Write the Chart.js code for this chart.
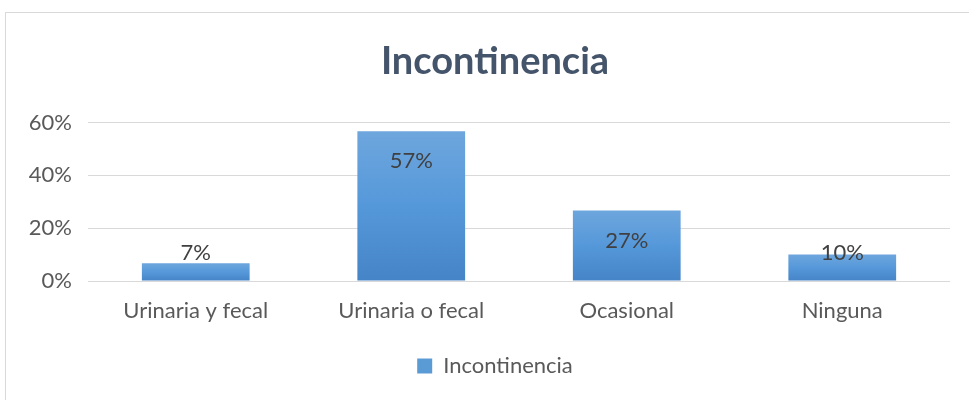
<!DOCTYPE html>
<html>
<head>
<meta charset="utf-8">
<script src="https://cdn.jsdelivr.net/npm/chart.js@4.4.1/dist/chart.umd.min.js"></script>
<style>
  body { margin: 0; background: #fff; overflow: hidden; }
  #frame { position: absolute; left: 5px; top: 12px; width: 1000px; height: 420px; border: 1px solid #D9D9D9; }
  #wrap { position: absolute; left: 0; top: 0; width: 989px; height: 400px; }
</style>
</head>
<body>
<div id="frame"></div>
<div id="wrap"><canvas id="chart" width="989" height="400"></canvas></div>
<script>
const categories = ['Urinaria y fecal', 'Urinaria o fecal', 'Ocasional', 'Ninguna'];
const values = [6.7, 56.7, 26.7, 10];
const yTicks = [0, 20, 40, 60];
const seriesName = 'Incontinencia';

const FONT = 'Lato, "Open Sans", sans-serif';

function barGradient(ctx, top, bottom) {
    const g = ctx.createLinearGradient(0, top, 0, bottom);
    g.addColorStop(0, '#6EA6DD');
    g.addColorStop(0.5, '#5598DA');
    g.addColorStop(1, '#4584C7');
    return g;
}

// data labels, Excel style "inside end"
const labelPlugin = {
    id: 'labels',
    afterDatasetsDraw(chart) {
        const ctx = chart.ctx;
        const meta = chart.getDatasetMeta(0);
        const base = chart.scales.y.getPixelForValue(0);
        ctx.save();
        ctx.font = '22px ' + FONT;
        ctx.fillStyle = '#404040';
        ctx.textAlign = 'center';
        ctx.textBaseline = 'middle';
        meta.data.forEach((bar, i) => {
            const y = Math.min(bar.y + 30, base - 28);
            ctx.fillText(Math.round(values[i]) + '%', bar.x, y);
        });
        ctx.restore();
    }
};

const ctx = document.getElementById('chart').getContext('2d');
new Chart(ctx, {
    type: 'bar',
    data: {
        labels: categories,
        datasets: [{
            label: seriesName,
            data: values,
            backgroundColor: function(c) {
                const chart = c.chart;
                if (!chart.chartArea || c.type !== 'data') return '#5B9BD5';
                const base = chart.scales.y.getPixelForValue(0);
                const top = chart.scales.y.getPixelForValue(c.raw);
                return barGradient(chart.ctx, top, base);
            },
            borderWidth: 0,
            categoryPercentage: 0.5,
            barPercentage: 1
        }]
    },
    options: {
        responsive: false,
        animation: false,
        layout: { padding: { left: 20, right: 19, top: 39, bottom: 13 } },
        plugins: {
            title: {
                display: true,
                text: 'Incontinencia',
                color: '#44546A',
                font: { family: FONT, size: 38, weight: 'bold', lineHeight: 1.2 },
                padding: { top: 0, bottom: 38 }
            },
            legend: {
                position: 'bottom',
                labels: {
                    color: '#595959',
                    font: { family: FONT, size: 22 },
                    boxWidth: 15,
                    boxHeight: 15,
                    padding: 10,
                    generateLabels: function(chart) {
                        return [{
                            text: seriesName,
                            fillStyle: '#5B9BD5',
                            strokeStyle: '#5B9BD5',
                            lineWidth: 0,
                            fontColor: '#595959',
                            datasetIndex: 0
                        }];
                    }
                }
            },
            tooltip: { enabled: false }
        },
        scales: {
            x: {
                grid: { display: false },
                border: { display: false },
                ticks: { color: '#595959', font: { family: FONT, size: 22 }, padding: 9 },
                afterFit: function(scale) { scale.height = 64; }
            },
            y: {
                min: 0,
                max: 60,
                afterBuildTicks: function(scale) {
                    scale.ticks = yTicks.map(v => ({ value: v }));
                },
                afterFit: function(scale) { scale.width = 68; },
                grid: { color: '#D9D9D9', lineWidth: 1, drawTicks: false },
                border: { display: false },
                ticks: {
                    color: '#595959',
                    font: { family: FONT, size: 22 },
                    padding: 16,
                    callback: v => v + '%'
                }
            },
            // empty right-hand spacer so title and legend centre like the reference
            spacer: {
                type: 'linear',
                position: 'right',
                grid: { display: false },
                border: { display: false },
                ticks: { display: false },
                afterFit: function(scale) { scale.width = 20; }
            }
        }
    },
    plugins: [labelPlugin]
});
</script>
</body>
</html>
